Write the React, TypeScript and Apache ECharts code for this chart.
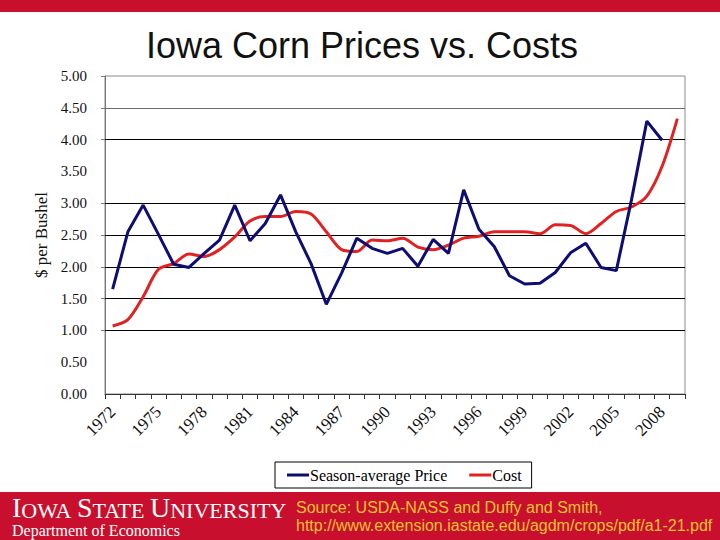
import React, { useEffect, useRef } from "react";
import * as echarts from "echarts";

const years: string[] = [
  "1972", "1973", "1974", "1975", "1976", "1977", "1978", "1979", "1980", "1981",
  "1982", "1983", "1984", "1985", "1986", "1987", "1988", "1989", "1990", "1991",
  "1992", "1993", "1994", "1995", "1996", "1997", "1998", "1999", "2000", "2001",
  "2002", "2003", "2004", "2005", "2006", "2007", "2008", "2009",
];

const seasonAveragePrice: number[] = [
  1.65, 2.55, 2.97, 2.51, 2.04, 1.99, 2.21, 2.42, 2.97, 2.41,
  2.68, 3.13, 2.55, 2.05, 1.41, 1.90, 2.45, 2.29, 2.21, 2.29,
  2.01, 2.43, 2.21, 3.21, 2.59, 2.32, 1.86, 1.73, 1.74, 1.91,
  2.22, 2.37, 1.99, 1.94, 3.06, 4.29, 3.99,
];

const cost: number[] = [
  1.07, 1.17, 1.53, 1.96, 2.05, 2.20, 2.16, 2.27, 2.47, 2.72,
  2.79, 2.79, 2.87, 2.83, 2.55, 2.27, 2.24, 2.42, 2.41, 2.45,
  2.31, 2.27, 2.34, 2.45, 2.48, 2.55, 2.55, 2.55, 2.52, 2.66,
  2.65, 2.52, 2.68, 2.87, 2.94, 3.11, 3.58, 4.33,
];

// Values at which the reference shows tick marks / dark gridlines
const yTickValues: number[] = [1, 1.5, 2, 2.5, 3, 4, 4.5, 5];
const darkGridValues: number[] = [1, 1.5, 2, 2.5, 3, 4];
const lightGridValues: number[] = [4.5];

const titleText = "Iowa Corn Prices vs. Costs";
const yAxisName = "$ per Bushel";
const priceName = "Season-average Price";
const costName = "Cost";
const sourceLine1 = "Source: USDA-NASS and Duffy and Smith,";
const sourceLine2 = "http://www.extension.iastate.edu/agdm/crops/pdf/a1-21.pdf";
const deptText = "Department of Economics";

const SERIF = "'Liberation Serif', 'Times New Roman', serif";
const SANS = "'Liberation Sans', Arial, sans-serif";
const ISU_RED = "#c8102e";

export default function App() {
  const ref = useRef<HTMLDivElement>(null);

  useEffect(() => {
    if (!ref.current) return;
    const chart = echarts.init(ref.current, undefined, { renderer: "svg" });
    const gridLines = [
      ...darkGridValues.map((v) => ({ yAxis: v, lineStyle: { color: "#000", width: 1, type: "solid" } })),
      ...lightGridValues.map((v) => ({ yAxis: v, lineStyle: { color: "#6a6a6a", width: 1, type: "solid" } })),
    ];
    chart.setOption({
      animation: false,
      backgroundColor: "#ffffff",
      title: {
        text: titleText,
        left: 357,
        textAlign: "center",
        top: 22,
        textStyle: { fontFamily: SANS, fontSize: 36, fontWeight: "normal", color: "#111" },
      },
      grid: {
        left: 105,
        right: 35,
        top: 76,
        bottom: 146,
        show: true,
        borderColor: "#8a8a8a",
        borderWidth: 1,
        backgroundColor: "transparent",
      },
      legend: {
        left: 275,
        top: 462,
        width: 253,
        data: [priceName, costName],
        backgroundColor: "#fff",
        borderColor: "#000",
        borderWidth: 1,
        padding: [5, 10, 5, 12],
        itemGap: 22,
        itemWidth: 22,
        itemHeight: 3,
        icon: "rect",
        textStyle: { fontFamily: SERIF, fontSize: 16, color: "#000", padding: [0, 0, 0, -4] },
      },
      xAxis: {
        type: "category",
        data: years,
        boundaryGap: true,
        axisLine: { lineStyle: { color: "#333", width: 1 } },
        axisTick: { show: true, interval: 0, length: 5, lineStyle: { color: "#333" } },
        axisLabel: {
          interval: 2,
          rotate: 45,
          margin: 15,
          fontFamily: SERIF,
          fontSize: 17,
          color: "#111",
        },
        splitLine: { show: false },
      },
      yAxis: {
        type: "value",
        min: 0,
        max: 5,
        interval: 0.5,
        name: yAxisName,
        nameLocation: "middle",
        nameRotate: 90,
        nameGap: 54,
        nameTextStyle: { fontFamily: SERIF, fontSize: 17, color: "#111" },
        axisLine: { show: true, lineStyle: { color: "#777", width: 1 } },
        axisTick: { show: true, length: 4, customValues: yTickValues, lineStyle: { color: "#777" } },
        axisLabel: {
          margin: 18,
          fontFamily: SERIF,
          fontSize: 15,
          color: "#111",
          formatter: (v: number) => v.toFixed(2),
        },
        splitLine: { show: false },
      },
      series: [
        {
          name: priceName,
          type: "line",
          data: seasonAveragePrice,
          symbol: "none",
          color: "#0d0d73",
          lineStyle: { color: "#0d0d73", width: 3 },
          z: 3,
        },
        {
          name: costName,
          type: "line",
          data: cost,
          symbol: "none",
          smooth: 0.3,
          color: "#e02222",
          lineStyle: { color: "#e02222", width: 3 },
          z: 2,
          markLine: {
            silent: true,
            symbol: ["none", "none"],
            label: { show: false },
            z: 1,
            data: gridLines,
          },
        },
      ],
      graphic: [
        { type: "rect", shape: { x: 0, y: 0, width: 720, height: 12 }, style: { fill: ISU_RED }, silent: true },
        { type: "rect", shape: { x: 0, y: 492, width: 720, height: 48 }, style: { fill: ISU_RED }, silent: true },
        {
          type: "text",
          x: 12,
          y: 495,
          style: {
            text: "{b|I}{s|OWA }{b|S}{s|TATE }{b|U}{s|NIVERSITY}",
            fill: "#fff",
            rich: {
              b: { fontFamily: SERIF, fontSize: 28, fill: "#fff", lineHeight: 26, verticalAlign: "bottom" },
              s: { fontFamily: SERIF, fontSize: 22, fill: "#fff", lineHeight: 21, verticalAlign: "bottom" },
            },
          },
          silent: true,
        },
        {
          type: "text",
          x: 12,
          y: 530,
          style: {
            text: deptText,
            fontFamily: SERIF,
            fontSize: 16,
            fill: "#fff",
            verticalAlign: "middle",
          },
          silent: true,
        },
        {
          type: "text",
          x: 296,
          y: 507,
          style: { text: sourceLine1, fontFamily: SANS, fontSize: 16, fill: "#f2c230", verticalAlign: "middle" },
          silent: true,
        },
        {
          type: "text",
          x: 296,
          y: 525,
          style: { text: sourceLine2, fontFamily: SANS, fontSize: 16, fill: "#f2c230", verticalAlign: "middle" },
          silent: true,
        },
      ],
    });
    return () => chart.dispose();
  }, []);

  return (
    <div
      ref={ref}
      style={{ position: "fixed", left: 0, top: 0, width: 720, height: 540, background: "#fff" }}
    />
  );
}
